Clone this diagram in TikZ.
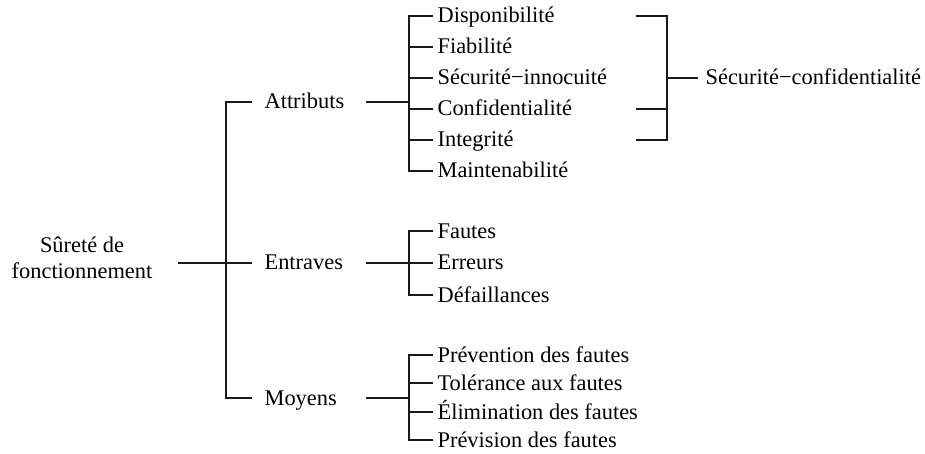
\documentclass[tikz,border=0pt]{standalone}
\usepackage{fontspec}
\setmainfont{Liberation Serif}
\begin{document}
\begin{tikzpicture}[x=0.5pt,y=-0.5pt,line width=0.6pt,
  txt/.style={font=\fontsize{11.2}{13}\selectfont},
  lbl/.style={txt,inner ysep=0pt,inner xsep=2pt,text height=7.5pt,text depth=0.5pt,anchor=west},
  lvl1/.style={lbl,inner xsep=6pt},
  wire/.style={draw=black!90}]
\useasboundingbox (0,0) rectangle (925,454);
% root
\node[txt,align=center,minimum width=95pt,inner sep=0pt] (root) at (82,258) {Sûreté de\\fonctionnement};
\coordinate (j0) at (226,263);
\node[lvl1] (att) at (252,102) {Attributs};
\node[lvl1] (ent) at (252,263) {Entraves};
\node[lvl1] (moy) at (252,398) {Moyens};
\draw[wire] (root.east |- j0) -- (j0);
\draw[wire] (att.west) -| (j0) |- (moy.west);
\draw[wire] (j0) -- (ent.west);
% attributs
\coordinate (aS) at (366,102);
\coordinate (aJ) at (409,102);
\draw[wire] (aS) -- (aJ);
\foreach \n/\y/\t in {a1/16/Disponibilité,a2/47/Fiabilité,a3/78/Sécurité−innocuité,a4/109/Confidentialité,a5/140/Integrité,a6/171/Maintenabilité}
  \node[lbl] (\n) at (433,\y) {\t};
\draw[wire] (a1.west) -| (aJ) |- (a6.west);
\foreach \n in {a2,a3,a4,a5} \draw[wire] (aJ |- \n.west) -- (\n.west);
% bracket
\coordinate (b1) at (636,16);
\coordinate (b4) at (636,109);
\coordinate (b5) at (636,140);
\coordinate (bV) at (667,78);
\node[lbl,inner xsep=3.5pt] (sc) at (698,78) {Sécurité−confidentialité};
\draw[wire] (b1) -| (bV) |- (b5);
\draw[wire] (b4) -- (b4 -| bV);
\draw[wire] (bV) -- (sc.west);
% entraves
\coordinate (eS) at (366,263);
\coordinate (eJ) at (409,263);
\draw[wire] (eS) -- (eJ);
\foreach \n/\y/\t in {e1/231/Fautes,e2/263/Erreurs,e3/295/Défaillances}
  \node[lbl] (\n) at (433,\y) {\t};
\draw[wire] (e1.west) -| (eJ) |- (e3.west);
\draw[wire] (eJ) -- (e2.west);
% moyens
\coordinate (mS) at (366,398);
\coordinate (mJ) at (409,398);
\draw[wire] (mS) -- (mJ);
\foreach \n/\y/\t in {m1/355/Prévention des fautes,m2/383/Tolérance aux fautes,m3/412/Élimination des fautes,m4/440/Prévision des fautes}
  \node[lbl] (\n) at (433,\y) {\t};
\draw[wire] (m1.west) -| (mJ) |- (m4.west);
\foreach \n in {m2,m3} \draw[wire] (mJ |- \n.west) -- (\n.west);
\end{tikzpicture}
\end{document}
